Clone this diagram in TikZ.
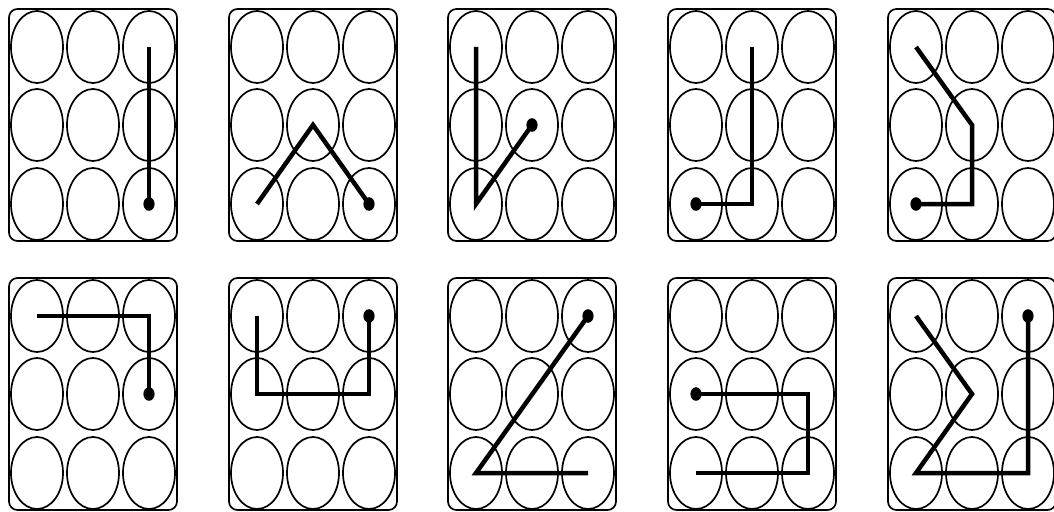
\documentclass[tikz,border=0pt]{standalone}
\usetikzlibrary{shapes.geometric}

\tikzset{
  keycell/.style={draw, ellipse, line width=1.2pt, minimum width=1.3cm, minimum height=1.8cm, inner sep=0pt},
  keyframe/.style={draw, line width=1.2pt, rounded corners=6pt},
  swipe/.style={line width=3.2pt, line join=miter},
}

% one 3x3 lock pad: name, left, top
\newcommand{\keypad}[3]{%
  \begin{scope}[shift={(#2,#3)}]
    \draw[keyframe] (0,0) rectangle (168,232);
    \foreach \c/\cx in {1/28,2/84,3/140}
      \foreach \r/\cy in {1/38,2/116,3/195}
        \node[keycell] (#1-\c\r) at (\cx,\cy) {};
  \end{scope}}

% end point of a swipe
\newcommand{\tapdot}[1]{\fill (#1.center) ellipse [x radius=0.14cm, y radius=0.17cm];}

\begin{document}
\begin{tikzpicture}[x=0.025cm, y=-0.025cm]
  \useasboundingbox (0,0) rectangle (1054,512);

  % ===== top row =====
  \keypad{a}{9}{9}
  \keypad{b}{229}{9}
  \keypad{c}{448}{9}
  \keypad{d}{668}{9}
  \keypad{e}{888}{9}

  % ===== bottom row =====
  \keypad{f}{9}{278}
  \keypad{g}{229}{278}
  \keypad{h}{448}{278}
  \keypad{i}{668}{278}
  \keypad{j}{888}{278}

  % swipes
  \draw[swipe] (a-31.center) -- (a-33.center);
  \tapdot{a-33}

  \draw[swipe] (b-13.center) -- (b-22.center) -- (b-33.center);
  \tapdot{b-33}

  \draw[swipe] (c-11.center) -- (c-13.center) -- (c-22.center);
  \tapdot{c-22}

  \draw[swipe] (d-21.center) -- (d-23.center) -- (d-13.center);
  \tapdot{d-13}

  \draw[swipe] (e-11.center) -- (e-22.center) -- (e-23.center) -- (e-13.center);
  \tapdot{e-13}

  \draw[swipe] (f-11.center) -- (f-31.center) -- (f-32.center);
  \tapdot{f-32}

  \draw[swipe] (g-11.center) -- (g-12.center) -- (g-32.center) -- (g-31.center);
  \tapdot{g-31}

  \draw[swipe] (h-33.center) -- (h-13.center) -- (h-31.center);
  \tapdot{h-31}

  \draw[swipe] (i-13.center) -- (i-33.center) -- (i-32.center) -- (i-12.center);
  \tapdot{i-12}

  \draw[swipe] (j-11.center) -- (j-22.center) -- (j-13.center) -- (j-33.center) -- (j-31.center);
  \tapdot{j-31}
\end{tikzpicture}
\end{document}
